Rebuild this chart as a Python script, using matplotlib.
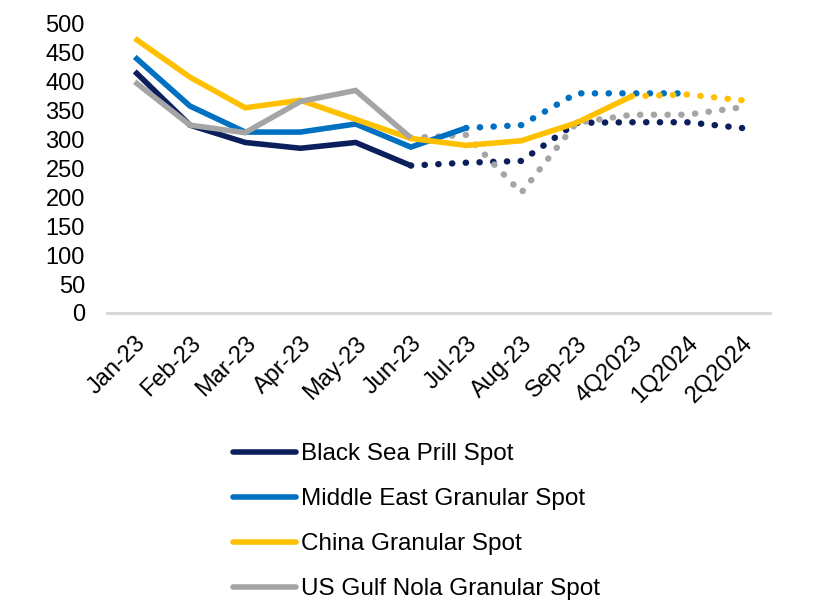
import matplotlib
matplotlib.use("Agg")
import matplotlib.pyplot as plt
import numpy as np
from matplotlib.lines import Line2D

plt.rcParams['font.family'] = ['Liberation Sans', 'DejaVu Sans']

categories = ["Jan-23", "Feb-23", "Mar-23", "Apr-23", "May-23", "Jun-23",
              "Jul-23", "Aug-23", "Sep-23", "4Q2023", "1Q2024", "2Q2024"]

black_sea = [418, 325, 295, 285, 295, 255, 260, 263, 329, 330, 330, 320]
middle_east = [443, 358, 313, 313, 327, 287, 320, 325, 380, 380, 380, None]
china = [475, 408, 355, 368, 335, 302, 290, 298, 329, 375, 378, 368]
us_gulf = [400, 325, 312, 366, 385, 303, 308, 208, 329, 343, 343, 356]

series = [
    ("Black Sea Prill Spot", black_sea, "#0b1f5c", 5),
    ("Middle East Granular Spot", middle_east, "#0070c0", 6),
    ("China Granular Spot", china, "#ffc000", 9),
    ("US Gulf Nola Granular Spot", us_gulf, "#a5a5a5", 5),
]

fig = plt.figure(figsize=(8.18, 6.12), dpi=100)
ax = fig.add_axes([0.131, 0.4886, 0.81, 0.4722])

x = np.arange(len(categories))
lw = 4.0
dot_lw = 4.6
for name, vals, color, split in series:
    v = np.array([np.nan if a is None else a for a in vals], dtype=float)
    ax.plot(x[split:], v[split:], color=color, lw=dot_lw, linestyle=(0, (0.05, 2.1)),
            dash_capstyle='round', zorder=2)
for name, vals, color, split in series:
    v = np.array([np.nan if a is None else a for a in vals], dtype=float)
    ax.plot(x[:split + 1], v[:split + 1], color=color, lw=lw,
            solid_capstyle='butt', solid_joinstyle='miter', zorder=3, label=name)

ax.set_xlim(-0.5, len(categories) - 0.5)
ax.set_ylim(0, 500)
ax.set_yticks(np.arange(0, 501, 50))
ax.set_xticks(x)
ax.set_xticklabels(categories, rotation=45, ha='right', va='top', rotation_mode='anchor')
ax.tick_params(axis='both', length=0, labelsize=17, colors='black')
ax.tick_params(axis='y', pad=16)
ax.tick_params(axis='x', pad=14)
for s in ['top', 'right', 'left']:
    ax.spines[s].set_visible(False)
ax.spines['bottom'].set_color('#d9d9d9')
ax.spines['bottom'].set_linewidth(2.2)

leg_handles = [Line2D([0], [0], color=c, lw=lw, solid_capstyle='round') for _, _, c, _ in series]
leg = fig.legend(leg_handles, [s[0] for s in series], loc='upper left',
                 bbox_to_anchor=(233 / 818, 1 - 443 / 612), frameon=False,
                 fontsize=17.5, handlelength=2.6, handletextpad=0.2,
                 labelspacing=0.95, borderpad=0, borderaxespad=0)

fig.savefig("out.png", dpi=100)
